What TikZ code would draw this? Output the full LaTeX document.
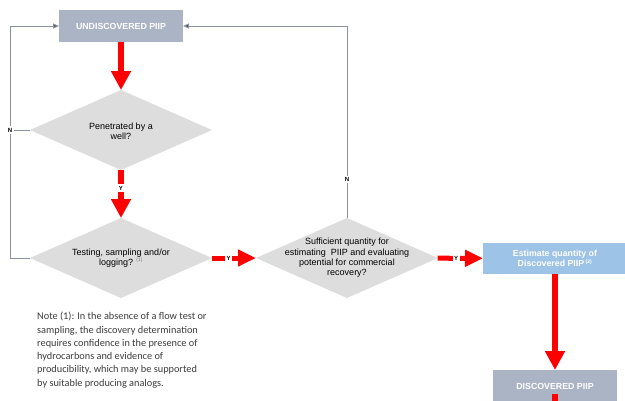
\documentclass[tikz,border=0pt]{standalone}
\usepackage{fontspec}
\setmainfont{Liberation Sans}
\newfontfamily\notefont{Carlito}
\usetikzlibrary{arrows.meta}
\usetikzlibrary{shapes.geometric}
\definecolor{pgray}{RGB}{171, 180, 197}
\definecolor{pblue}{RGB}{157, 195, 230}
\definecolor{qgray}{RGB}{221, 221, 221}
\definecolor{lgray}{RGB}{140, 146, 156}
\definecolor{tipgray}{RGB}{70, 74, 82}
\definecolor{ngray}{RGB}{60, 60, 60}
\tikzset{pbox/.style = {fill = pgray, minimum width = 124pt, minimum height = 32pt,
                        inner sep = 0, outer sep = 0, text = white, align = center,
                        font = \fontsize{8.8}{10.4}\selectfont\bfseries}}
\tikzset{decision/.style = {diamond, fill = qgray, minimum width = 182pt, minimum height = 80pt,
                            inner sep = 0, outer sep = 0}}
\tikzset{qtext/.style = {align = center, inner sep = 0, text = black,
                         font = \fontsize{9}{10.35}\selectfont}}
\tikzset{redarr/.style = {draw = red, line width = 6pt, -{Triangle[length = 19pt, width = 19pt]}}}
\tikzset{redarrh/.style = {draw = red, line width = 5pt, -{Triangle[length = 18pt, width = 16pt]}}}
\tikzset{back/.style = {draw = lgray, line width = 1pt, -{Triangle[length = 6pt, width = 5pt, fill = tipgray]}}}
\tikzset{yn/.style = {fill = white, inner sep = 1.6pt, text = black,
                      font = \fontsize{6}{6}\selectfont\bfseries}}
\newcommand{\fnref}[1]{\textsuperscript{\fontsize{5}{5}\selectfont(#1)}}

\begin{document}
\begin{tikzpicture}[x = 1pt, y = -1pt]
  \useasboundingbox (0, 0) rectangle (625, 400);

  \node [pbox] (undisc) at (121, 26) {UNDISCOVERED PIIP};
  \node [decision] (pen) at (121, 130) {};
  \node [qtext] (pentext) at (121, 131) {Penetrated by a\\well?};
  \node [decision] (test) at (121, 258) {};
  \node [qtext] (testtext) at (121, 258) {Testing, sampling and/or\\logging? {\color{gray}\fnref{1}}};
  \node [decision] (suff) at (347, 258) {};
  \node [qtext] (sufftext) at (347, 258)
    {Sufficient quantity for\\estimating\ \ PIIP and evaluating\\potential for commercial\\recovery?};
  \node [pbox, fill = pblue, minimum width = 144pt, minimum height = 31pt] (est) at (555, 258.5)
    {Estimate quantity of\\Discovered PIIP\,\fnref{2}};
  \node [pbox] (disc) at (555, 386) {DISCOVERED PIIP};

  % way back to the top
  \coordinate (lft) at (10, 26);
  \coordinate (rgt) at (347, 26);
  \draw [back] (test.west) -| (lft) -- (undisc.west);
  \draw [draw = lgray, line width = 1pt] (pen.west) -- (pen.west -| lft) node [yn] {N};
  \draw [back] (suff.north) -- node [yn, pos = 0.2] {N} (rgt) -- (undisc.east);

  % main flow
  \draw [redarr] (undisc) -- (pen);
  \draw [redarr] (pen) -- node [yn, pos = 0.375] {Y} (test);
  \draw [redarrh] (test) -- node [yn, pos = 0.38] {Y} (suff);
  \draw [redarrh] (suff) -- node [yn, pos = 0.41] {Y} (est);
  \draw [redarr] (est) -- (disc);
  \draw [draw = red, line width = 6pt] (disc.south) -- +(0, -8);

  \node [anchor = north west, align = left, inner sep = 0, text = ngray,
         font = \notefont\fontsize{10.3}{13.3}\selectfont] (note) at (37, 312)
    {Note (1): In the absence of a flow test or\\
     sampling, the discovery determination\\
     requires confidence in the presence of\\
     hydrocarbons and evidence of\\
     producibility, which may be supported\\
     by suitable producing analogs.};
\end{tikzpicture}
\end{document}
